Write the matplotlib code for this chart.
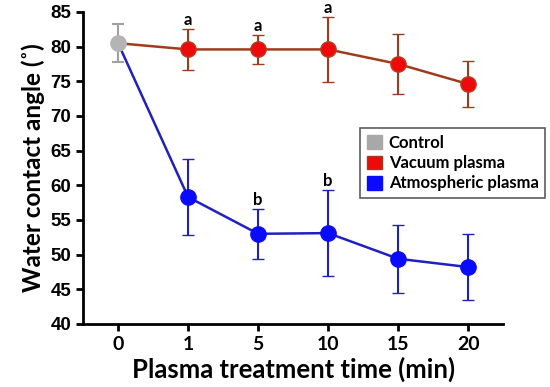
import matplotlib.pyplot as plt
import numpy as np
from matplotlib.patches import Patch

times = ['0', '1', '5', '10', '15', '20']
control = 80.5
control_err = 2.7
vacuum = [79.6, 79.6, 79.6, 77.5, 74.6]
vacuum_err = [2.9, 2.1, 4.7, 4.3, 3.3]
atmos = [58.3, 53.0, 53.1, 49.4, 48.2]
atmos_err = [5.5, 3.6, 6.2, 4.9, 4.8]
vac_letters = ['a', 'a', 'a', '', '']
atm_letters = ['', 'b', 'b', '', '']

plt.rcParams['font.family'] = ['Liberation Sans', 'DejaVu Sans']
plt.rcParams['font.weight'] = 'bold'
lato = ['Lato', 'DejaVu Sans']

fig = plt.figure(figsize=(5.5, 3.87), dpi=100)
ax = fig.add_axes([0.151, 0.163, 0.764, 0.806])

x = np.arange(len(times))
xs = x[1:]

# lines from the control point
ax.plot([0, 1], [control, vacuum[0]], color='#a03c1e', lw=1.8, zorder=2)
ax.plot([0, 1], [control, atmos[0]], color='#2020c0', lw=1.8, zorder=2)

ax.errorbar(xs, vacuum, yerr=vacuum_err, color='#a03c1e', lw=1.8, elinewidth=1.5,
            capsize=4, capthick=1.5, marker='o', ms=11, mfc='#ee0a0a', mec='#b43c1e',
            mew=1, zorder=3)
ax.errorbar(xs, atmos, yerr=atmos_err, color='#2020c0', lw=1.8, elinewidth=1.5,
            capsize=4, capthick=1.5, marker='o', ms=11, mfc='#0a0aff', mec='#0a0aff',
            mew=1, zorder=3)
ax.errorbar([0], [control], yerr=[control_err], color='#a0a0a0', elinewidth=1.5,
            capsize=4, capthick=1.5, marker='o', ms=11, mfc='#b4b4b4', mec='#b4b4b4', zorder=4)

for xi, v, e, t in zip(xs, vacuum, vacuum_err, vac_letters):
    if t:
        ax.text(xi, v + e + 0.15, t, ha='center', va='bottom', fontsize=12,
                family=lato, fontweight='bold')
for xi, v, e, t in zip(xs, atmos, atmos_err, atm_letters):
    if t:
        ax.text(xi, v + e + 0.15, t, ha='center', va='bottom', fontsize=12,
                family=lato, fontweight='bold')

ax.set_xlim(-0.5, 5.5)
ax.set_ylim(40, 85)
ax.set_xticks(x)
ax.set_xticklabels(times, family=lato, fontsize=14, fontweight='bold')
ax.set_yticks(np.arange(40, 86, 5))
ax.tick_params(axis='y', labelsize=13.5, width=2, length=5)
ax.tick_params(axis='x', width=2, length=5)
for s in ['top', 'right']:
    ax.spines[s].set_visible(False)
for s in ['left', 'bottom']:
    ax.spines[s].set_linewidth(2)

ax.set_xlabel('Plasma treatment time (min)', family=lato, fontsize=18.5,
              fontweight='bold', labelpad=3)
ax.set_ylabel('Water contact angle (˚)', family=lato, fontsize=17.5,
              fontweight='bold', labelpad=4)

handles = [Patch(facecolor='#a8a8a8', edgecolor='#a8a8a8'),
           Patch(facecolor='#ee0a0a', edgecolor='#a03c1e'),
           Patch(facecolor='#0a0aff', edgecolor='#0a0aff')]
leg = ax.legend(handles, ['Control', 'Vacuum plasma', 'Atmospheric plasma'],
                loc='upper right', bbox_to_anchor=(1.1, 0.627), fancybox=False,
                edgecolor='#333333', handlelength=0.9, handleheight=0.9,
                handletextpad=0.4, borderpad=0.4, labelspacing=0.25,
                borderaxespad=0,
                prop={'family': lato, 'weight': 'bold', 'size': 12})
leg.get_frame().set_linewidth(1.2)

plt.savefig('out.png', dpi=100)
